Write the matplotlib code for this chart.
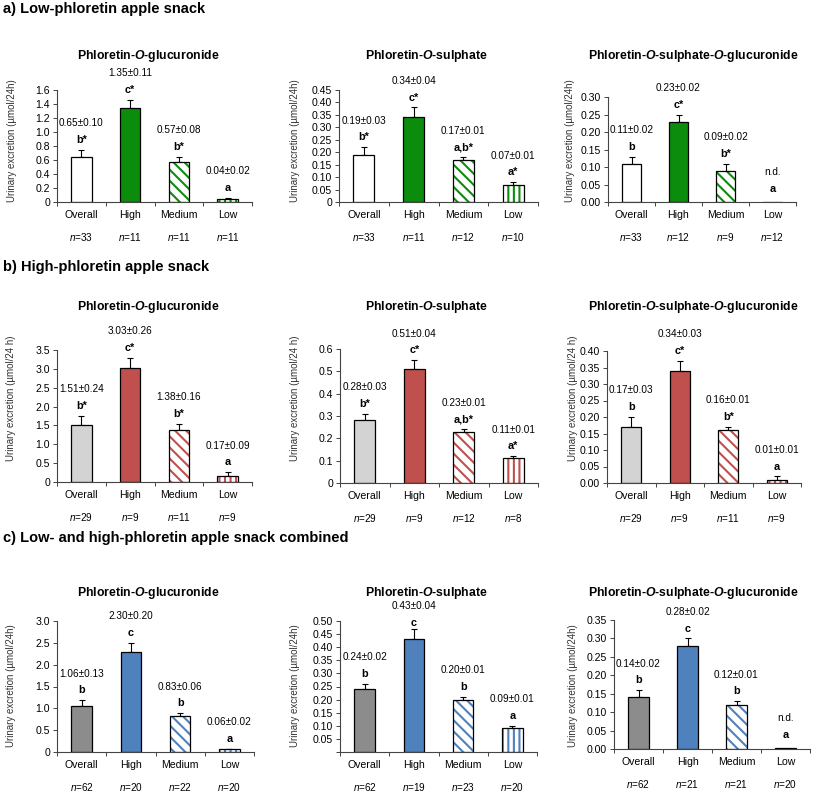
import matplotlib
matplotlib.use("Agg")
import matplotlib.pyplot as plt
import numpy as np

plt.rcParams.update({
    "font.family": ["Liberation Sans", "DejaVu Sans"],
    "mathtext.fontset": "custom",
    "mathtext.rm": "Liberation Sans",
    "mathtext.it": "Liberation Sans:italic",
    "mathtext.bf": "Liberation Sans:bold",
    "mathtext.bfit": "Liberation Sans:italic:bold",
    "hatch.linewidth": 1.5,
})

W, H = 817, 793

CATEGORIES = ["Overall", "High", "Medium", "Low"]
SECTIONS = ["a) Low-phloretin apple snack",
            "b) High-phloretin apple snack",
            "c) Low- and high-phloretin apple snack combined"]
COMPOUNDS = [r"Phloretin-$\mathbfit{O}$-glucuronide",
             r"Phloretin-$\mathbfit{O}$-sulphate",
             r"Phloretin-$\mathbfit{O}$-sulphate-$\mathbfit{O}$-glucuronide"]
YLABELS = ["Urinary excretion (µmol/24h)",
           "Urinary excretion (µmol/24 h)",
           "Urinary excretion (µmol/24h)"]

# row colours: overall fill, group colour
OVERALL_FILL = ["white", "#d3d3d3", "#8c8c8c"]
GROUP_COLOR = ["#0c8c0c", "#c0504d", "#4f81bd"]

# a) low-phloretin snack (None error -> n.d.)
A_GLUC_MEAN = [0.65, 1.35, 0.57, 0.04]
A_GLUC_ERR = [0.10, 0.11, 0.08, 0.02]
A_GLUC_SIG = ["b*", "c*", "b*", "a"]
A_GLUC_N = [33, 11, 11, 11]

A_SULF_MEAN = [0.19, 0.34, 0.17, 0.07]
A_SULF_ERR = [0.03, 0.04, 0.01, 0.01]
A_SULF_SIG = ["b*", "c*", "a,b*", "a*"]
A_SULF_N = [33, 11, 12, 10]

A_SG_MEAN = [0.11, 0.23, 0.09, 0.0]
A_SG_ERR = [0.02, 0.02, 0.02, None]
A_SG_SIG = ["b", "c*", "b*", "a"]
A_SG_N = [33, 12, 9, 12]

# b) high-phloretin snack
B_GLUC_MEAN = [1.51, 3.03, 1.38, 0.17]
B_GLUC_ERR = [0.24, 0.26, 0.16, 0.09]
B_GLUC_SIG = ["b*", "c*", "b*", "a"]
B_GLUC_N = [29, 9, 11, 9]

B_SULF_MEAN = [0.28, 0.51, 0.23, 0.11]
B_SULF_ERR = [0.03, 0.04, 0.01, 0.01]
B_SULF_SIG = ["b*", "c*", "a,b*", "a*"]
B_SULF_N = [29, 9, 12, 8]

B_SG_MEAN = [0.17, 0.34, 0.16, 0.01]
B_SG_ERR = [0.03, 0.03, 0.01, 0.01]
B_SG_SIG = ["b", "c*", "b*", "a"]
B_SG_N = [29, 9, 11, 9]

# c) combined
C_GLUC_MEAN = [1.06, 2.30, 0.83, 0.06]
C_GLUC_ERR = [0.13, 0.20, 0.06, 0.02]
C_GLUC_SIG = ["b", "c", "b", "a"]
C_GLUC_N = [62, 20, 22, 20]

C_SULF_MEAN = [0.24, 0.43, 0.20, 0.09]
C_SULF_ERR = [0.02, 0.04, 0.01, 0.01]
C_SULF_SIG = ["b", "c", "b", "a"]
C_SULF_N = [62, 19, 23, 20]

C_SG_MEAN = [0.14, 0.28, 0.12, 0.003]
C_SG_ERR = [0.02, 0.02, 0.01, None]
C_SG_SIG = ["b", "c", "b", "a"]
C_SG_N = [62, 21, 21, 20]

PANELS = [
    [(A_GLUC_MEAN, A_GLUC_ERR, A_GLUC_SIG, A_GLUC_N),
     (A_SULF_MEAN, A_SULF_ERR, A_SULF_SIG, A_SULF_N),
     (A_SG_MEAN, A_SG_ERR, A_SG_SIG, A_SG_N)],
    [(B_GLUC_MEAN, B_GLUC_ERR, B_GLUC_SIG, B_GLUC_N),
     (B_SULF_MEAN, B_SULF_ERR, B_SULF_SIG, B_SULF_N),
     (B_SG_MEAN, B_SG_ERR, B_SG_SIG, B_SG_N)],
    [(C_GLUC_MEAN, C_GLUC_ERR, C_GLUC_SIG, C_GLUC_N),
     (C_SULF_MEAN, C_SULF_ERR, C_SULF_SIG, C_SULF_N),
     (C_SG_MEAN, C_SG_ERR, C_SG_SIG, C_SG_N)],
]

# y axis: (max, step, decimals, label for zero)
YAXES = [
    [(1.6, 0.2, 1, "0"), (0.45, 0.05, 2, "0"), (0.30, 0.05, 2, "0.00")],
    [(3.5, 0.5, 1, "0"), (0.6, 0.1, 1, "0"), (0.40, 0.05, 2, "0.00")],
    [(3.0, 0.5, 1, "0"), (0.50, 0.05, 2, ""), (0.35, 0.05, 2, "0.00")],
]

# layout in pixels: (left, right, top, bottom)
BOXES = [
    [(57, 252, 90, 202), (339, 538, 90, 202), (608, 796, 97, 202)],
    [(57, 252, 350, 482), (340, 538, 349, 483), (607, 801, 351, 483)],
    [(57, 254, 621, 752), (340, 537, 621, 752), (614, 810, 620, 749)],
]
TITLE_X = [148, 426, 693]
TITLE_Y = [56, 307, 593]
SECTION_Y = [9, 267, 538]
YLABEL_X = [[12, 295, 570], [11, 295, 573], [11, 295, 573]]
YLABEL_Y = [141, 398, 686]
# letter offset (points) for the High bar where the reference squeezes it under the title
HIGH_GAP = {(2, 1): 0.5}


def fx(x):
    return x / W


def fy(y):
    return 1 - y / H


def draw_panel(ax, means, errs, sig, ns, yax, fill, color, high_gap):
    x = np.arange(len(CATEGORIES))
    bw = 0.42
    for i, m in enumerate(means):
        if i == 0:
            ax.bar(i, m, bw, color=fill, edgecolor="black", lw=0.9, zorder=2)
        elif i == 1:
            ax.bar(i, m, bw, color=color, edgecolor="black", lw=0.9, zorder=2)
        else:
            hatch = "\\\\\\" if i == 2 else "|||"
            ax.bar(i, m, bw, color="white", edgecolor=color, hatch=hatch, lw=0, zorder=2)
            ax.bar(i, m, bw, fill=False, edgecolor="black", lw=0.9, zorder=3)
        e = errs[i]
        if e is not None:
            ax.errorbar(i, m, yerr=[[0], [e]], color="black", lw=0.8,
                        capsize=2.5, capthick=0.8, zorder=1)
            top, off = m + e, 3.5
            label = f"{m:.2f}±{e:.2f}"
        else:
            top, off = m, 6
            label = "n.d."
        if i == 1 and high_gap is not None:
            off = high_gap
        ax.annotate(sig[i], (i, top), xytext=(0, off), textcoords="offset points",
                    ha="center", va="bottom", fontsize=7.8, fontweight="bold")
        ax.annotate(label, (i, top), xytext=(0, off + 12), textcoords="offset points",
                    ha="center", va="bottom", fontsize=7.2)
        ax.annotate(r"$\mathit{n}$=" + str(ns[i]), (i, 0),
                    xycoords=("data", "axes fraction"), xytext=(0, -25),
                    textcoords="offset points", ha="center", va="center", fontsize=7.2)

    ymax, step, dec, zero = yax
    ticks = np.round(np.arange(0, ymax + step / 2, step), 3)
    labels = [zero] + [f"{t:.{dec}f}" for t in ticks[1:]]
    ax.set_ylim(0, ymax)
    ax.set_yticks(ticks, labels)
    ax.set_xlim(-0.5, len(CATEGORIES) - 0.5)
    ax.set_xticks(x, CATEGORIES)
    ax.set_xticks(np.arange(len(CATEGORIES) + 1) - 0.5, minor=True)
    ax.tick_params(axis="x", which="major", length=0, pad=6, labelsize=7.6)
    ax.tick_params(axis="x", which="minor", length=3, width=0.7, color="#444444")
    ax.tick_params(axis="y", length=3, width=0.7, color="#444444", labelsize=7.6, pad=2)
    for s in ("top", "right"):
        ax.spines[s].set_visible(False)
    for s in ("left", "bottom"):
        ax.spines[s].set_color("#444444")
        ax.spines[s].set_linewidth(0.8)


fig = plt.figure(figsize=(W / 100, H / 100), dpi=100)

for r in range(3):
    fig.text(fx(3), fy(SECTION_Y[r]), SECTIONS[r], fontsize=10.5,
             fontweight="bold", ha="left", va="center")
    for c in range(3):
        l, rr, t, b = BOXES[r][c]
        ax = fig.add_axes([fx(l), fy(b), (rr - l) / W, (b - t) / H])
        means, errs, sig, ns = PANELS[r][c]
        draw_panel(ax, means, errs, sig, ns, YAXES[r][c], OVERALL_FILL[r],
                   GROUP_COLOR[r], HIGH_GAP.get((r, c)))
        fig.text(fx(TITLE_X[c]), fy(TITLE_Y[r]), COMPOUNDS[c], fontsize=8.8,
                 fontweight="bold", ha="center", va="center")
        fig.text(fx(YLABEL_X[r][c]), fy(YLABEL_Y[r]), YLABELS[r], fontsize=7,
                 rotation=90, ha="center", va="center", color="#333333")

fig.savefig("out.png", dpi=100)
